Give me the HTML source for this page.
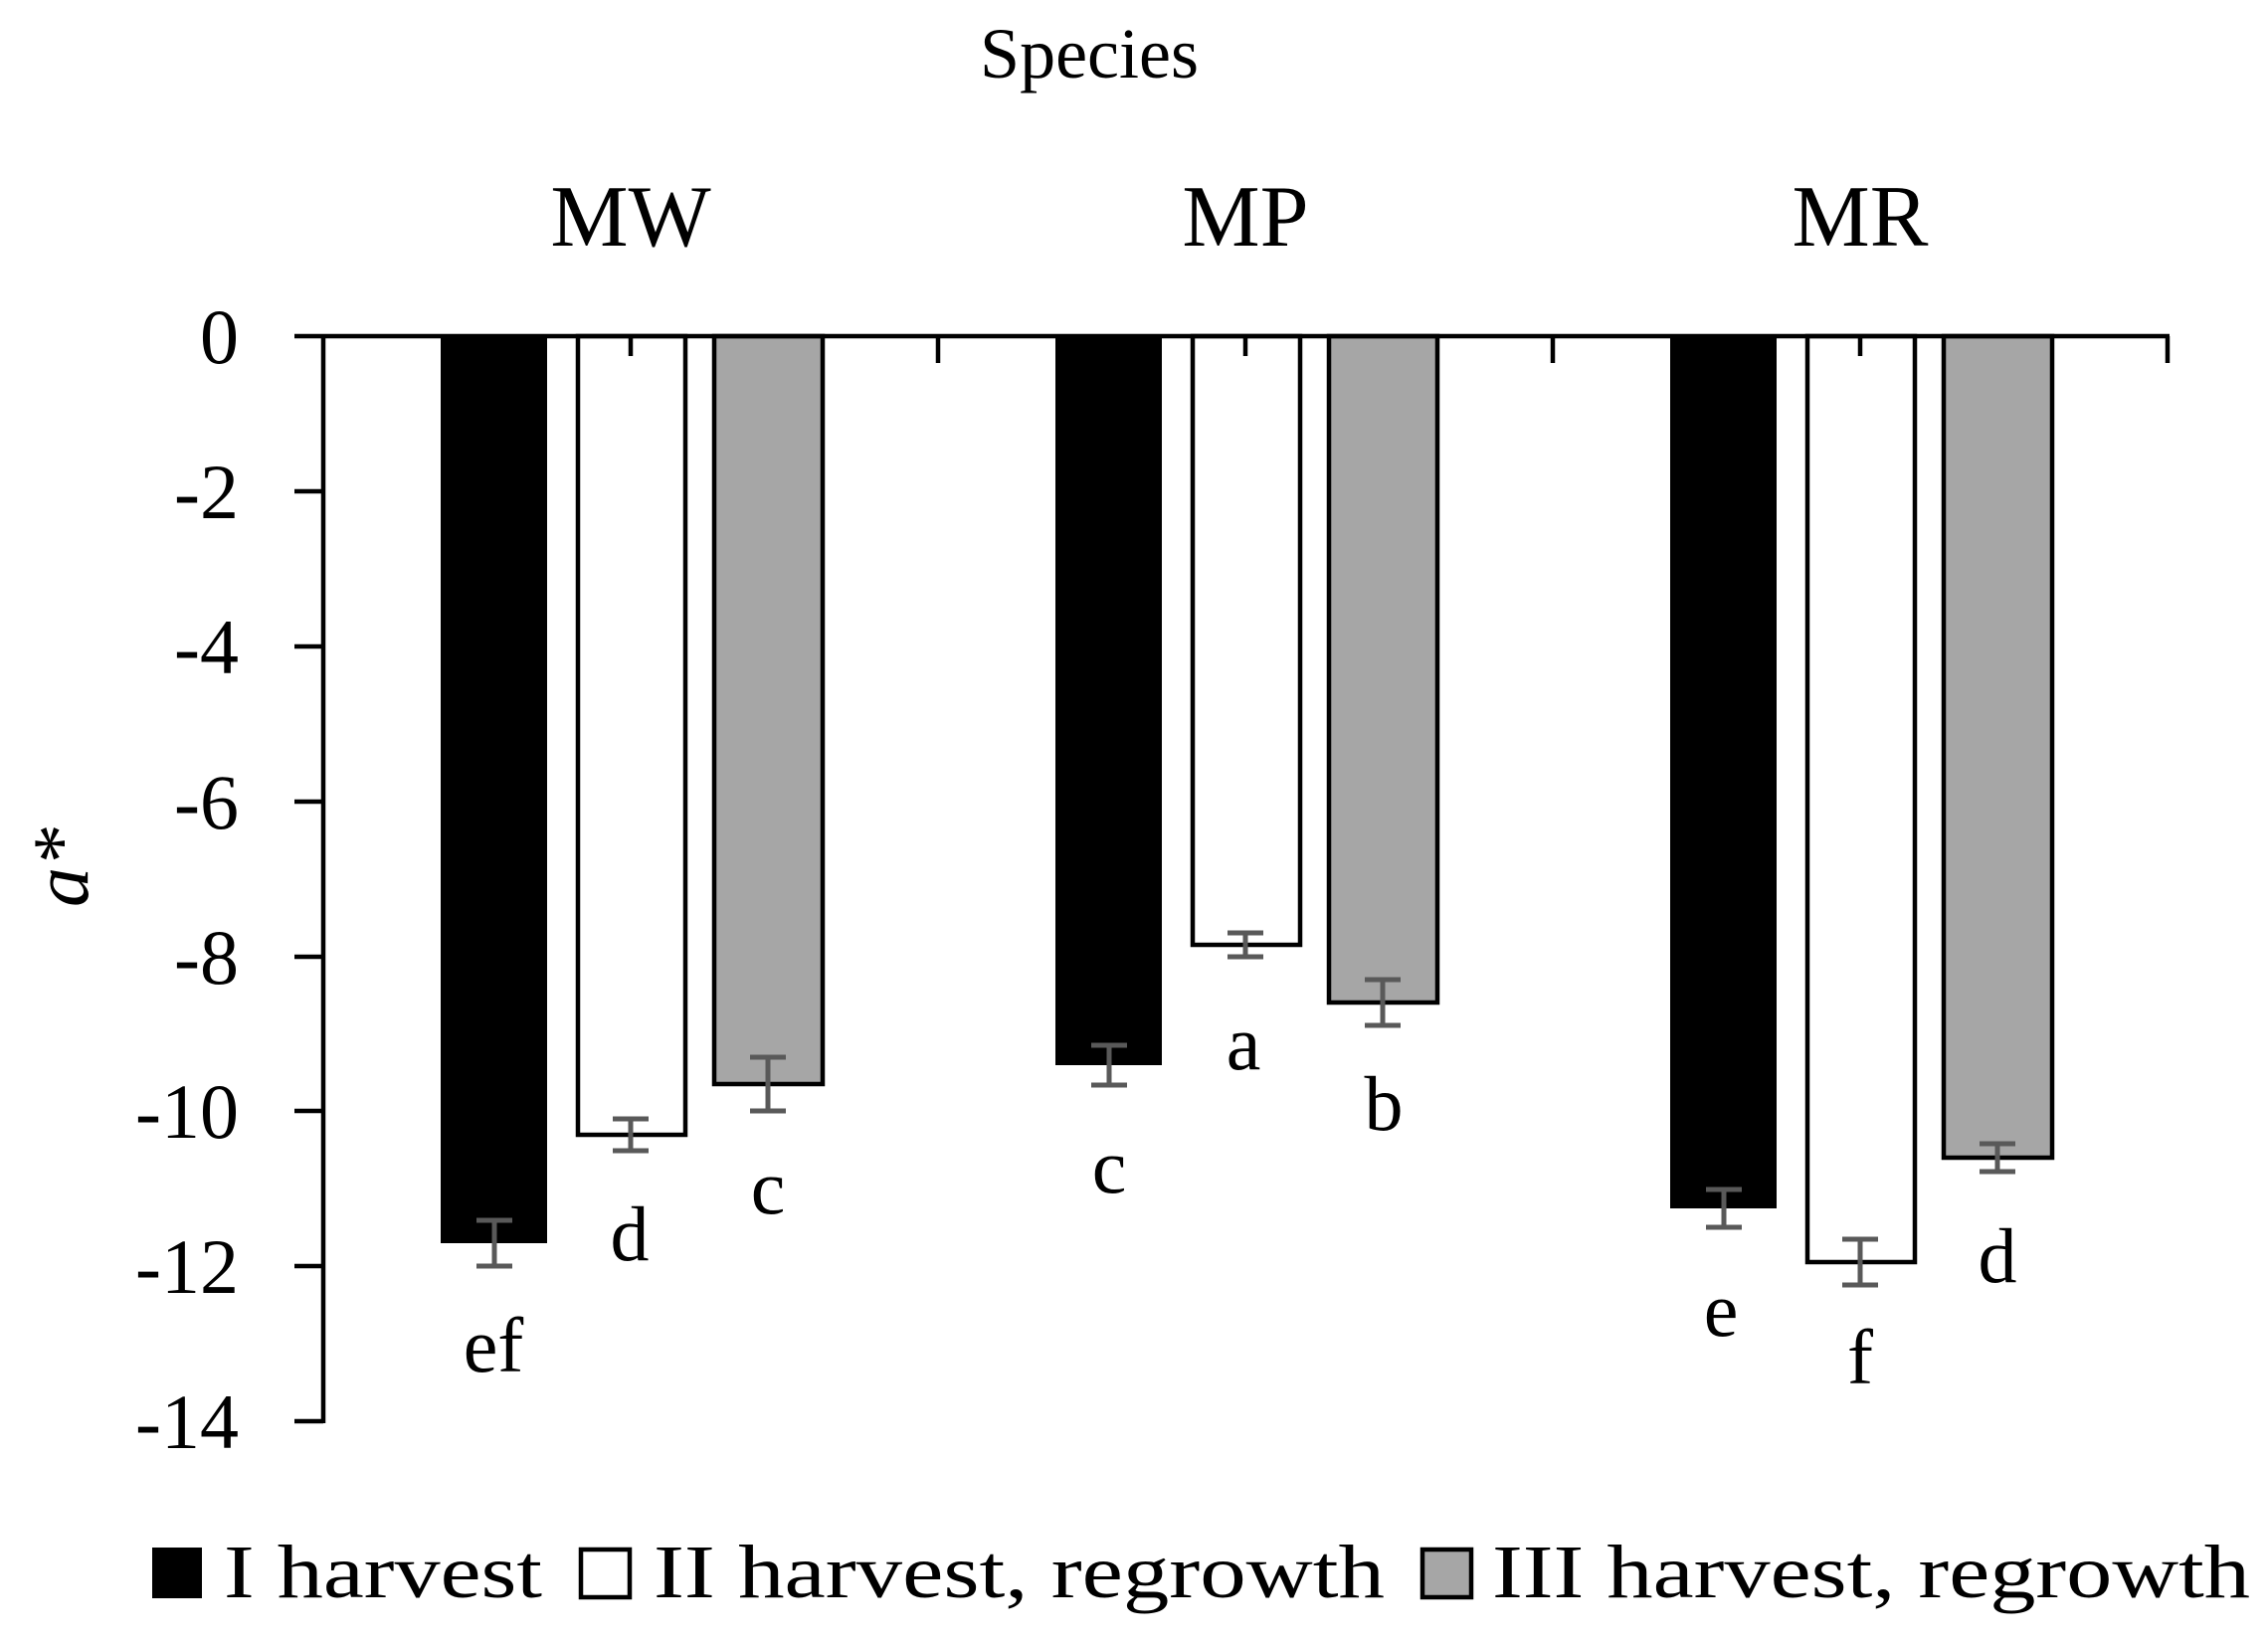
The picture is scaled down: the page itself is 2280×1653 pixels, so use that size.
<!DOCTYPE html>
<html><head><meta charset="utf-8"><style>html,body{margin:0;padding:0;background:#fff}svg{display:block}</style></head>
<body>
<svg width="2280" height="1653" viewBox="0 0 2280 1653" xmlns="http://www.w3.org/2000/svg" font-family="'Liberation Serif', serif">
<rect width="2280" height="1653" fill="#fff"/>
<text x="1095" y="78" font-size="72" text-anchor="middle">Species</text>
<g font-size="88" text-anchor="middle">
<text x="634" y="247">MW</text><text x="1252" y="247">MP</text><text x="1870" y="247">MR</text>
</g>
<g stroke="#000" stroke-width="4.5">
<rect x="443" y="338" width="107" height="912" fill="#000" stroke="none"/>
<rect x="581" y="338" width="108" height="803" fill="#fff"/>
<rect x="718" y="338" width="109" height="752" fill="#a6a6a6"/>
<rect x="1061" y="338" width="107" height="733" fill="#000" stroke="none"/>
<rect x="1199" y="338" width="108" height="612" fill="#fff"/>
<rect x="1336" y="338" width="109" height="670" fill="#a6a6a6"/>
<rect x="1679" y="338" width="107" height="877" fill="#000" stroke="none"/>
<rect x="1817" y="338" width="108" height="931" fill="#fff"/>
<rect x="1954" y="338" width="109" height="826" fill="#a6a6a6"/>
</g>
<g stroke="#000" stroke-width="4.5" fill="none">
<line x1="296" y1="338" x2="2181" y2="338"/>
<line x1="325" y1="336" x2="325" y2="1431"/>
<line x1="296" y1="494" x2="325" y2="494"/>
<line x1="296" y1="650" x2="325" y2="650"/>
<line x1="296" y1="806" x2="325" y2="806"/>
<line x1="296" y1="962" x2="325" y2="962"/>
<line x1="296" y1="1117" x2="325" y2="1117"/>
<line x1="296" y1="1273" x2="325" y2="1273"/>
<line x1="296" y1="1429" x2="325" y2="1429"/>
<line x1="634" y1="338" x2="634" y2="358"/>
<line x1="943" y1="338" x2="943" y2="365"/>
<line x1="1252" y1="338" x2="1252" y2="358"/>
<line x1="1561" y1="338" x2="1561" y2="365"/>
<line x1="1870" y1="338" x2="1870" y2="358"/>
<line x1="2179" y1="338" x2="2179" y2="365"/>
</g>
<g font-size="78" text-anchor="end">
<text x="240" y="365">0</text><text x="240" y="521">-2</text><text x="240" y="677">-4</text>
<text x="240" y="833">-6</text><text x="240" y="989">-8</text><text x="240" y="1144">-10</text>
<text x="240" y="1300">-12</text><text x="240" y="1456">-14</text>
</g>
<text transform="translate(88,872) rotate(-90)" font-size="80" font-style="italic" text-anchor="middle">a*</text>
<g stroke="#595959" stroke-width="5" fill="none">
<path d="M497 1227V1273M479 1227H515M479 1273H515"/>
<path d="M634 1125V1157M616 1125H652M616 1157H652"/>
<path d="M772 1063V1117M754 1063H790M754 1117H790"/>
<path d="M1115 1051V1091M1097 1051H1133M1097 1091H1133"/>
<path d="M1252 938V962M1234 938H1270M1234 962H1270"/>
<path d="M1390 985V1031M1372 985H1408M1372 1031H1408"/>
<path d="M1733 1196V1234M1715 1196H1751M1715 1234H1751"/>
<path d="M1870 1246V1292M1852 1246H1888M1852 1292H1888"/>
<path d="M2008 1150V1178M1990 1150H2026M1990 1178H2026"/>
</g>
<g font-size="78" text-anchor="middle">
<text x="496" y="1379">ef</text><text x="633" y="1267">d</text><text x="772" y="1220">c</text>
<text x="1115" y="1199">c</text><text x="1250" y="1075">a</text><text x="1391" y="1136">b</text>
<text x="1730" y="1343">e</text><text x="1870" y="1391">f</text><text x="2008" y="1289">d</text>
</g>
<rect x="153" y="1556" width="50" height="51" fill="#000"/>
<rect x="584" y="1558" width="49" height="48" fill="#fff" stroke="#000" stroke-width="4.5"/>
<rect x="1430" y="1558" width="49" height="48" fill="#a6a6a6" stroke="#000" stroke-width="4.5"/>
<g font-size="76">
<text x="225" y="1606" textLength="320" lengthAdjust="spacingAndGlyphs">I harvest</text>
<text x="657" y="1606" textLength="735" lengthAdjust="spacingAndGlyphs">II harvest, regrowth</text>
<text x="1500" y="1606" textLength="762" lengthAdjust="spacingAndGlyphs">III harvest, regrowth</text>
</g>
</svg>
</body></html>
